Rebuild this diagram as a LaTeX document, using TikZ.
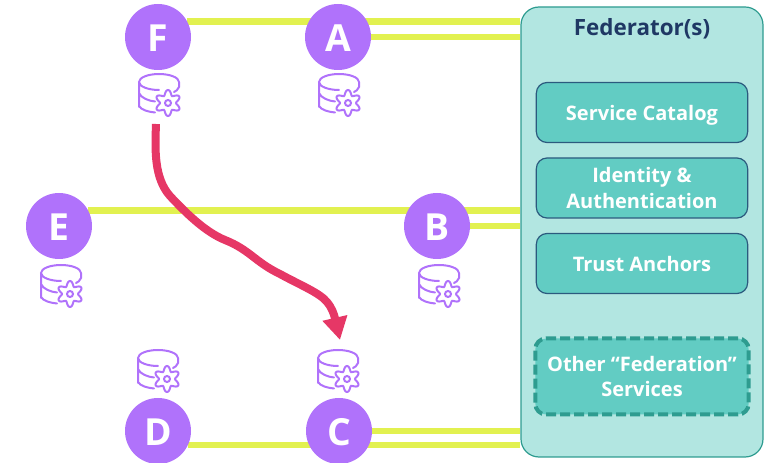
\documentclass[tikz,border=0pt]{standalone}
\usepackage{fontspec}
\setmainfont{Open Sans}
\usetikzlibrary{arrows.meta,backgrounds}
\definecolor{peerfill}{HTML}{B072FB}
\definecolor{linkline}{HTML}{E2F150}
\definecolor{flowline}{HTML}{E63766}
\definecolor{fedfill}{HTML}{B2E6E1}
\definecolor{feddraw}{HTML}{2E9C90}
\definecolor{svcfill}{HTML}{62CCC3}
\definecolor{svcdraw}{HTML}{2B5A7E}
\definecolor{titletext}{HTML}{1F3864}
\tikzset{
  pics/store/.style={code={
    \draw[peerfill,line width=1.5pt,line cap=round]
      (-20,13) -- (-20,-12)
      (20,-12) arc[start angle=0,end angle=-180,x radius=20,y radius=8]
      arc[start angle=180,end angle=90,x radius=20,y radius=8]
      (20,-12) -- (20,-7) .. controls (19,-4) and (17,-3) .. (15,-2)
      (-20,-1) .. controls (-18,4) and (-10,7) .. (-4,7.5)
      (-20,12) .. controls (-18,16) and (-10,18) .. (-4,18.5);
    \draw[peerfill,line width=1.5pt,smooth]
      plot[domain=0:360,samples=73] ({9+(10.5-2.5*cos(6*\x))*cos(\x)},{9+(10.5-2.5*cos(6*\x))*sin(\x)});
    \draw[peerfill,line width=1.5pt] (9,9) circle[radius=3];
  }}
}
\begin{document}
\begin{tikzpicture}[x=0.75pt,y=-0.75pt,font=\bfseries,node distance=135pt]
  \tikzstyle{peer}=[circle,fill=peerfill,text=white,minimum size=49.5pt,inner sep=0pt,text height=21.5pt,text depth=0pt,font=\bfseries\fontsize{28}{28}\selectfont]
  \tikzstyle{link}=[linkline,line width=5pt]
  \tikzstyle{federator}=[draw=feddraw,fill=fedfill,rounded corners=13.5pt,line width=0.9pt,minimum width=181.5pt,minimum height=337.5pt]
  \tikzstyle{service}=[draw=svcdraw,fill=svcfill,rounded corners=8pt,line width=0.9pt,text=white,align=center,minimum width=158.5pt,minimum height=45pt,inner sep=0pt,font=\bfseries\fontsize{15}{19}\selectfont]
  \tikzstyle{oneline}=[text height=11.5pt,text depth=0pt]
  \useasboundingbox (0,0) rectangle (769,463);

  \node[federator] (fed) at (642,232) {};
  \node[text=titletext,font=\bfseries\fontsize{16.8}{20}\selectfont] (title) at (642,29) {Federator(s)};

  \node[service,oneline] (catalog) at (642,112.5) {Service Catalog};
  \node[service] (identity) at (642,188) {Identity \&\\Authentication};
  \node[service,oneline] (anchors) at (642,263.5) {Trust Anchors};
  \node[service,draw=feddraw,dashed,dash pattern=on 7.5pt off 3pt,line width=3pt,minimum width=160pt,minimum height=57pt] (other) at (642,376.5) {Other “Federation”\\Services};

  \node[peer] (F) at (158,37) {F};
  \node[peer] (A) at (338,37) {A};
  \node[peer] (E) at (59,226) {E};
  \node[peer] (B) at (437,226) {B};
  \node[peer] (D) at (158,431) {D};
  \node[peer] (C) at (339,431) {C};

  \pic (storeF) at (159,94) {store};
  \pic (storeA) at (339,94) {store};
  \pic (storeE) at (61,285) {store};
  \pic (storeB) at (439,285) {store};
  \pic (storeD) at (158,370) {store};
  \pic (storeC) at (338,370) {store};

  \begin{scope}[on background layer]
    \draw[link] (F.28) -- (F.28 -| fed.west);
    \draw[link] (A.0) -- (A.0 -| fed.west);
    \draw[link] (E.28) -- (E.28 -| fed.west);
    \draw[link] (B.0) -- (B.0 -| fed.west);
    \draw[link] (C.0) -- (C.0 -| fed.west);
    \draw[link] (D.-25) -- (D.-25 -| fed.west);
  \end{scope}

  \coordinate (flowstart) at (156,124);
  \coordinate (flowend) at (340,340);
  \draw[flowline,line width=6pt,-{Triangle[width=18pt,length=17pt]}]
    (flowstart) .. controls (155,150) and (154,178) .. (170,196)
    .. controls (185,212) and (205,232) .. (225,240)
    .. controls (250,250) and (255,262) .. (280,274)
    .. controls (300,285) and (320,293) .. (327,302)
    .. controls (332,308) and (334,314) .. (flowend);
\end{tikzpicture}
\end{document}
